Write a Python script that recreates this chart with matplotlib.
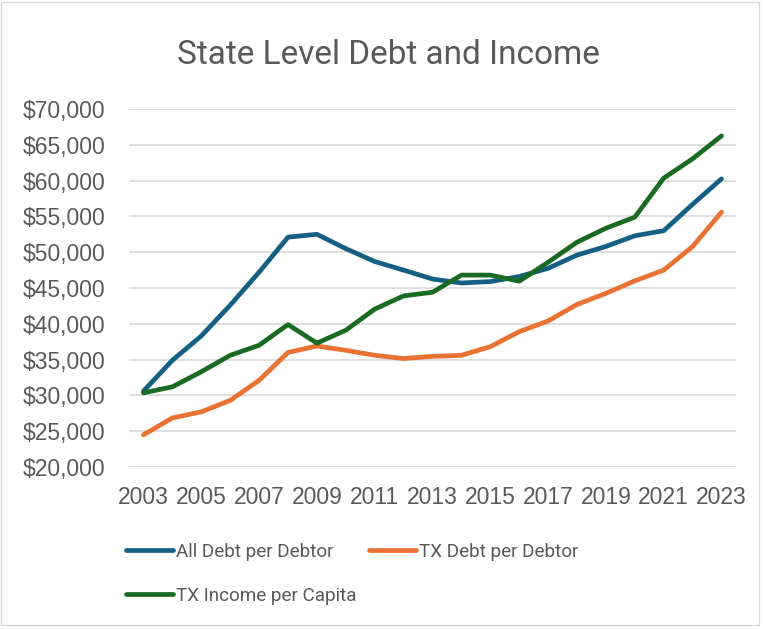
import matplotlib.pyplot as plt
import matplotlib.patches as patches
from matplotlib.ticker import FuncFormatter, MultipleLocator

years = list(range(2003, 2024))
all_debt = [30600, 34900, 38300, 42600, 47200, 52100, 52500, 50500, 48700, 47500, 46250,
            45700, 45900, 46600, 47750, 49600, 50800, 52300, 53000, 56700, 60250]
tx_debt = [24500, 26850, 27700, 29300, 32100, 36000, 36900, 36300, 35600, 35150, 35450,
           35600, 36800, 38900, 40400, 42700, 44250, 46000, 47500, 50800, 55600]
tx_income = [30350, 31200, 33300, 35600, 37000, 39900, 37300, 39100, 42050, 43900, 44400,
             46800, 46800, 45950, 48600, 51400, 53350, 54900, 60350, 63050, 66250]

text_color = '#595959'
label_font = ['Roboto', 'DejaVu Sans']

fig = plt.figure(figsize=(7.64, 6.29), dpi=100)
ax = fig.add_axes([129/764, 1 - 467/629, 607/764, 358/629])

l1, = ax.plot(years, all_debt, color='#156082', lw=3.4, solid_capstyle='round', solid_joinstyle='round')
l2, = ax.plot(years, tx_debt, color='#E97132', lw=3.4, solid_capstyle='round', solid_joinstyle='round')
l3, = ax.plot(years, tx_income, color='#196B24', lw=3.4, solid_capstyle='round', solid_joinstyle='round')

ax.set_xlim(2002.5, 2023.5)
ax.set_ylim(20000, 70000)
ax.yaxis.set_major_locator(MultipleLocator(5000))
ax.yaxis.set_major_formatter(FuncFormatter(lambda v, p: f"${v:,.0f}"))
ax.set_xticks(years[::2])
ax.grid(axis='y', color='#D9D9D9', lw=1.2)
ax.set_axisbelow(True)
for s in ax.spines.values():
    s.set_visible(False)
ax.tick_params(length=0, labelsize=16.5, colors=text_color)
ax.tick_params(axis='y', pad=17)
ax.tick_params(axis='x', pad=14)
for lab in ax.get_xticklabels() + ax.get_yticklabels():
    lab.set_family('Liberation Sans')

fig.text(0.509, 1 - 55/629, "State Level Debt and Income", ha='center', va='center',
         fontsize=24, color=text_color, family=label_font)

fig.legend([l1, l3, l2], ["All Debt per Debtor", "TX Income per Capita", "TX Debt per Debtor"],
           ncol=2, loc='upper left', bbox_to_anchor=(118.5/764, 1 - 535/629), frameon=False,
           prop={'family': label_font, 'size': 13.6}, labelcolor=text_color,
           handlelength=2.5, handletextpad=0.16, columnspacing=0.62, labelspacing=1.4,
           borderaxespad=0)

fig.patches.append(patches.Rectangle((1/764, 4/629), 758/764, 623/629, transform=fig.transFigure,
                                     fill=False, edgecolor='#D9D9D9', lw=1))

fig.savefig("out.png", dpi=100, facecolor='white')
